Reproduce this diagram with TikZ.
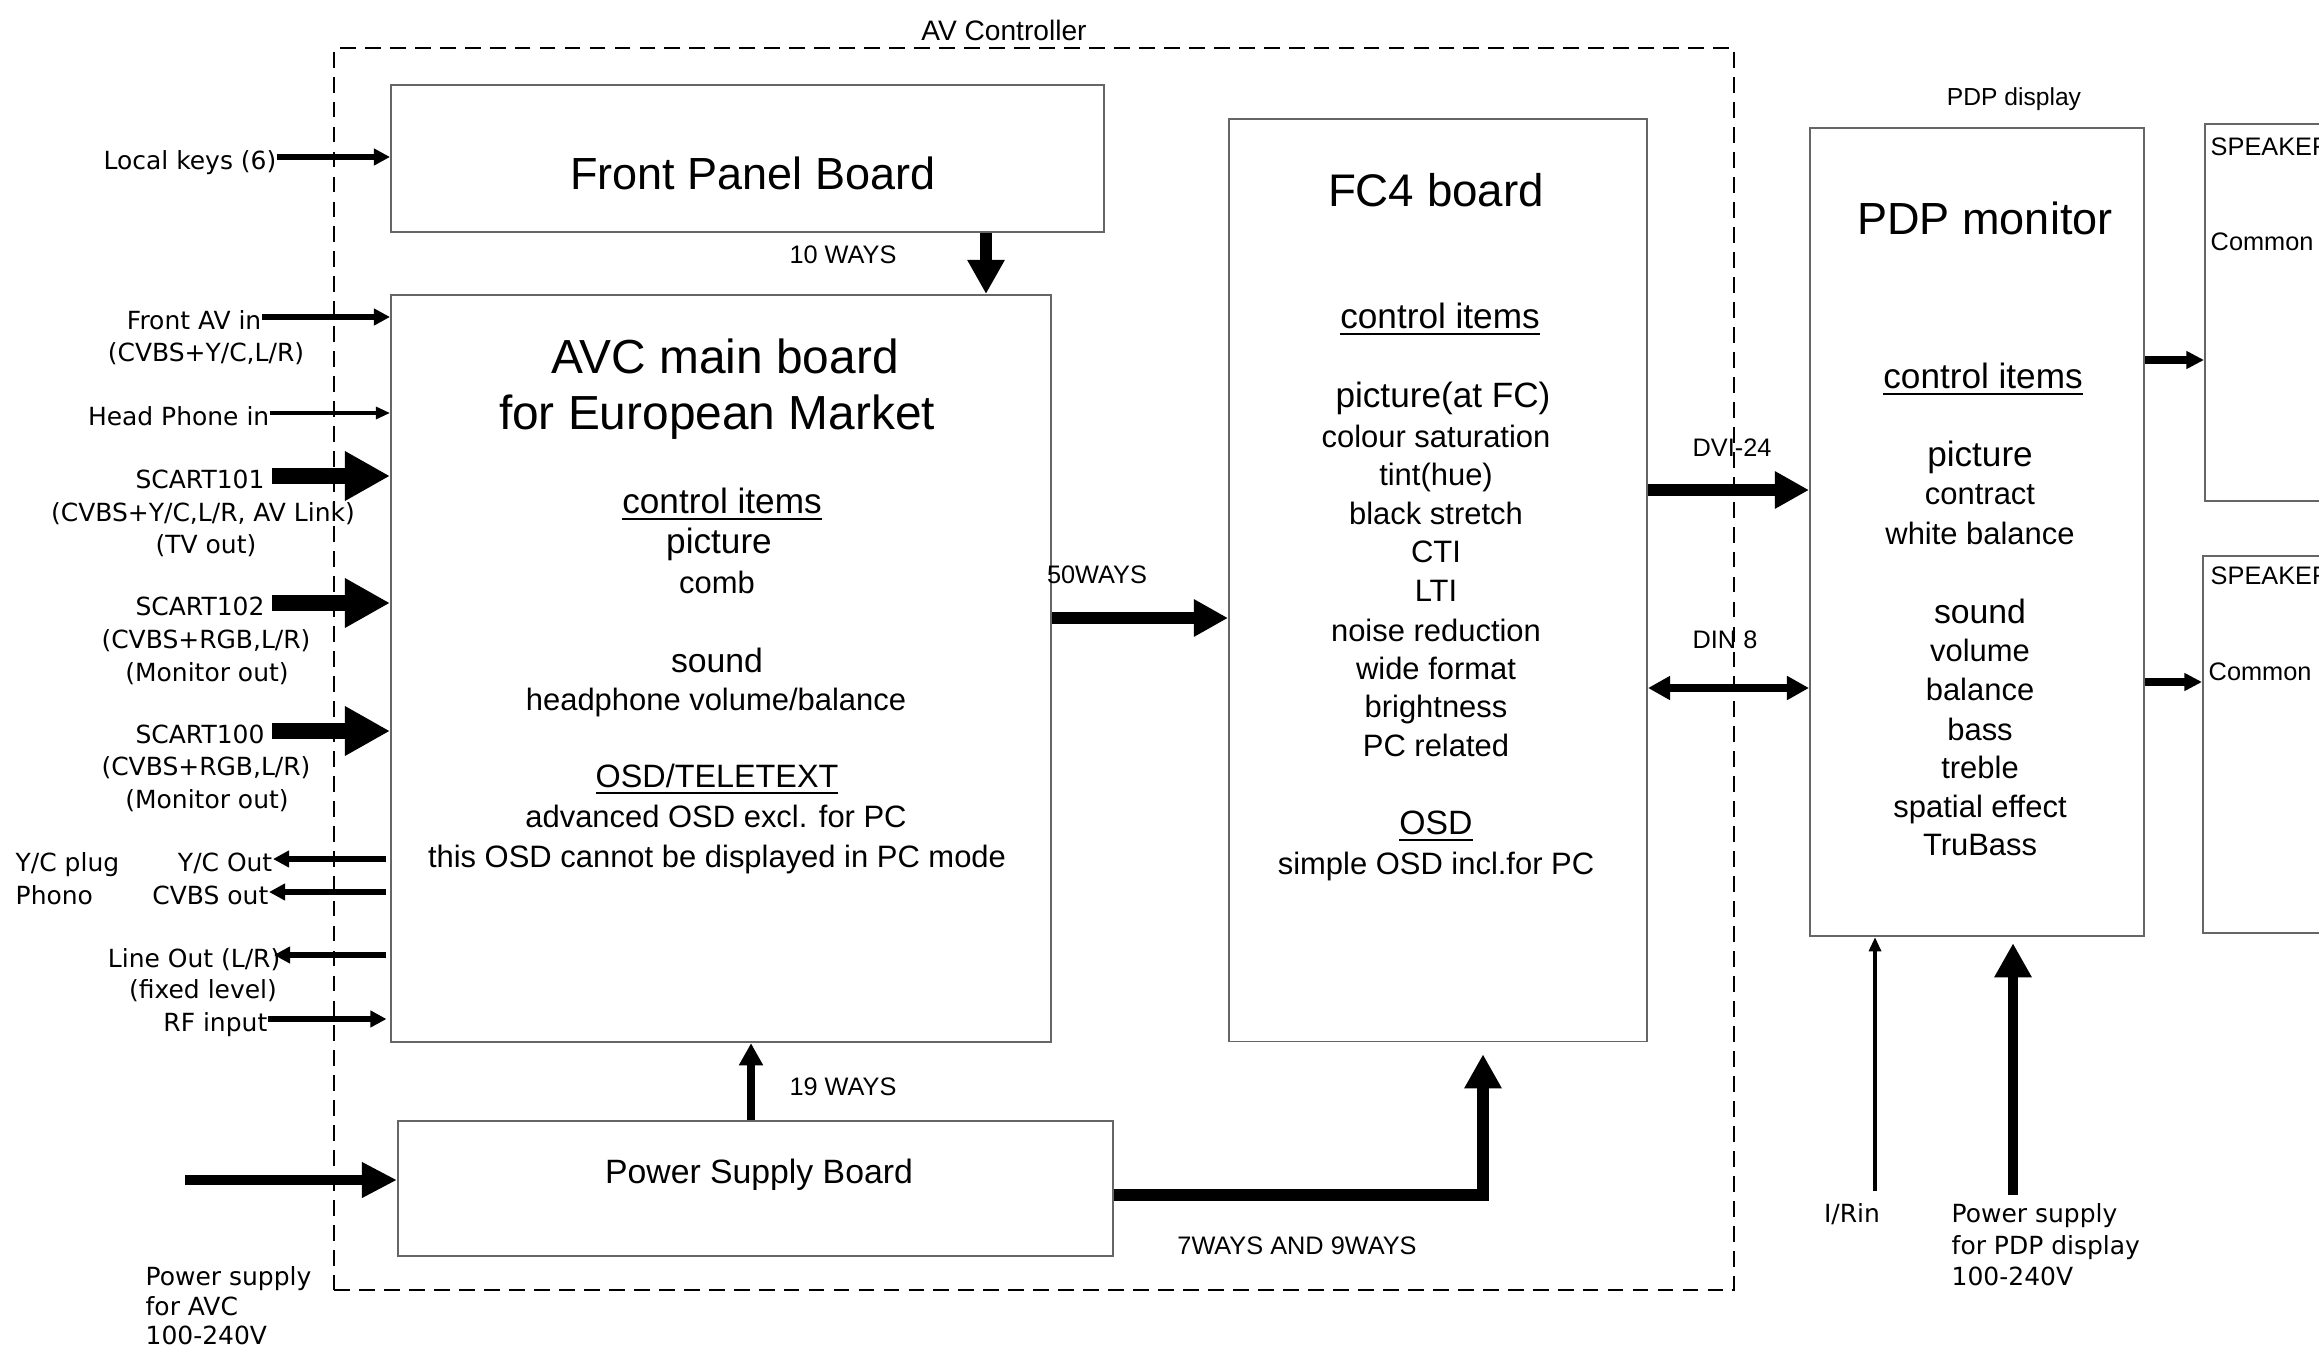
\documentclass[tikz,border=0pt]{standalone}
\usepackage{fontspec}
\setmainfont{Liberation Sans}
\newfontfamily\vfont{DejaVu Sans}
\usetikzlibrary{arrows.meta}
\newcommand\fsz[1]{\fontsize{#1}{#1}\selectfont}
\begin{document}
\begin{tikzpicture}[x=0.01cm,y=-0.01cm,
  box/.style={draw=black!60,line width=0.5pt,inner sep=0pt,anchor=north west},
  ctrlframe/.style={draw,dash pattern=on 4.5pt off 2.6pt,line width=0.7pt,inner sep=0pt,anchor=north west},
  txt/.style={inner sep=0pt,text height=0.72em,text depth=0pt},
  lbl/.style={txt,font=\vfont\fsz{7.1pt}},
  sm/.style={txt,font=\fsz{7.2pt}},
  body/.style={txt,font=\fsz{8.8pt}},
  head/.style={txt,font=\fsz{10pt}},
  title/.style={txt,font=\fsz{13.6pt}},
  bigarr/.style={line width=4.5pt,-{Triangle[length=12.8pt,width=13.2pt]}},
  wayarr/.style={line width=3.4pt,line join=miter,-{Triangle[length=9.7pt,width=10pt]}},
  smallway/.style={line width=2.2pt,-{Triangle[length=6.3pt,width=6.5pt]}},
  midarr/.style={line width=1.8pt,-{Triangle[length=4.6pt,width=4.6pt]}},
  thinarr/.style={line width=0.9pt,-{Triangle[length=4pt,width=3.4pt]}},
  dinarr/.style={line width=2pt,{Triangle[length=6.3pt,width=6.5pt]}-{Triangle[length=6.3pt,width=6.5pt]}},
  spkarr/.style={line width=2pt,-{Triangle[length=5pt,width=4.8pt]}}
]
\useasboundingbox (0,0) rectangle (2319,1349);
\clip (0,0) rectangle (2319,1349);

% AV controller enclosure
\node[ctrlframe,minimum width=13.99cm,minimum height=12.41cm] (avcframe) at (333,47) {};
\node[sm,font=\fsz{8pt}] (avctl) at (1004,28) {AV Controller};

% boards
\node[box,minimum width=7.13cm,minimum height=1.47cm] (fpb) at (390,84) {};
\node[box,minimum width=6.60cm,minimum height=7.47cm] (avc) at (390,294) {};
\node[box,minimum width=4.18cm,minimum height=9.22cm] (fc4) at (1228,118) {};
\node[box,minimum width=3.34cm,minimum height=8.08cm] (pdp) at (1809,127) {};
\node[box,minimum width=7.15cm,minimum height=1.35cm] (psb) at (397,1120) {};
\node[box,minimum width=3.00cm,minimum height=3.77cm] (spk1) at (2204,123) {};
\node[box,minimum width=3.00cm,minimum height=3.77cm] (spk2) at (2202,555) {};

% front panel board
\node[txt,font=\fsz{12.8pt}] (fpbt) at (753,177) {Front Panel Board};
\node[sm] (w10) at (843,251) {10 WAYS};

% AVC main board
\node[title] (avct1) at (725,361) {AVC main board};
\node[title] (avct2) at (717,417) {for European Market};
\node[head] (avc1) at (722,501) {\underline{control items}};
\node[head] (avc2) at (719,541) {picture};
\node[body] (avc3) at (717,581) {comb};
\node[head,font=\fsz{9.6pt}] (avc4) at (717,660) {sound};
\node[body] (avc5) at (716,698) {headphone volume/balance};
\node[body,font=\fsz{9.2pt}] (avc6) at (717,775) {\underline{OSD/TELETEXT}};
\node[body] (avc7) at (716,815) {advanced OSD excl. for PC};
\node[body] (avc8) at (717,855) {this OSD cannot be displayed in PC mode};
\node[sm] (w50) at (1097,571) {50WAYS};

% FC4 board
\node[txt,font=\fsz{13pt}] (fc4t) at (1436,194) {FC4 board};
\node[head] (fc1) at (1440,316) {\underline{control items}};
\node[head] (fc2) at (1443,395) {picture(at FC)};
\node[body] (fc3) at (1436,435) {colour saturation};
\node[body] (fc4a) at (1436,473) {tint(hue)};
\node[body] (fc5) at (1436,512) {black stretch};
\node[body] (fc6) at (1436,550) {CTI};
\node[body] (fc7) at (1436,589) {LTI};
\node[body] (fc8) at (1436,629) {noise reduction};
\node[body] (fc9) at (1436,667) {wide format};
\node[body] (fc10) at (1436,705) {brightness};
\node[body] (fc11) at (1436,744) {PC related};
\node[head,font=\fsz{9.6pt}] (fc12) at (1436,822) {\underline{OSD}};
\node[body] (fc13) at (1436,862) {simple OSD incl.for PC};

% PDP display
\node[sm,font=\fsz{7pt}] (pdpl) at (2014,93) {PDP display};
\node[txt,font=\fsz{12.8pt}] (pdpt) at (1985,222) {PDP monitor};
\node[head] (pd1) at (1983,376) {\underline{control items}};
\node[head] (pd2) at (1980,454) {picture};
\node[body] (pd3) at (1980,492) {contract};
\node[body] (pd4) at (1980,532) {white balance};
\node[head,font=\fsz{9.6pt}] (pd5) at (1980,611) {sound};
\node[body] (pd6) at (1980,649) {volume};
\node[body] (pd7) at (1980,688) {balance};
\node[body] (pd8) at (1980,728) {bass};
\node[body] (pd9) at (1980,766) {treble};
\node[body] (pd10) at (1980,805) {spatial effect};
\node[body] (pd11) at (1980,843) {TruBass};

% speakers
\node[sm,anchor=west] (spk1a) at (2210,143) {SPEAKER};
\node[sm,anchor=west] (spk1b) at (2210,238) {Common};
\node[sm,anchor=west] (spk2a) at (2210,572) {SPEAKER};
\node[sm,anchor=west] (spk2b) at (2208,668) {Common};

% power supply board
\node[txt,font=\fsz{9.6pt}] (psbt) at (759,1171) {Power Supply Board};
\node[sm] (w19) at (843,1083) {19 WAYS};
\node[sm] (w79) at (1297,1242) {7WAYS AND 9WAYS};
\node[sm] (dvi) at (1732,444) {DVI-24};
\node[sm] (din) at (1725,636) {DIN 8};

% external connections on the left
\node[lbl,anchor=east] (lk) at (277,157) {Local keys (6)};
\node[lbl,anchor=east] (fav) at (262,317) {Front AV in};
\node[lbl] (fav2) at (206,349) {(CVBS+Y/C,L/R)};
\node[lbl,anchor=east] (hp) at (270,413) {Head Phone in};
\node[lbl] (s1a) at (200,476) {SCART101};
\node[lbl] (s1b) at (203,509) {(CVBS+Y/C,L/R, AV Link)};
\node[lbl] (s1c) at (206,541) {(TV out)};
\node[lbl] (s2a) at (200,603) {SCART102};
\node[lbl] (s2b) at (206,636) {(CVBS+RGB,L/R)};
\node[lbl] (s2c) at (207,669) {(Monitor out)};
\node[lbl] (s0a) at (200,731) {SCART100};
\node[lbl] (s0b) at (206,763) {(CVBS+RGB,L/R)};
\node[lbl] (s0c) at (207,796) {(Monitor out)};
\node[lbl,anchor=west] (ycp) at (15,859) {Y/C plug};
\node[lbl,anchor=west] (pho) at (15,892) {Phono};
\node[lbl,anchor=east] (yco) at (273,859) {Y/C Out};
\node[lbl,anchor=east] (cvo) at (269,892) {CVBS out};
\node[lbl,anchor=east] (lo) at (281,955) {Line Out (L/R)};
\node[lbl] (lo2) at (203,986) {(fixed level)};
\node[lbl,anchor=east] (rf) at (268,1019) {RF input};
\node[lbl,anchor=west] (pa1) at (145,1273) {Power supply};
\node[lbl,anchor=west] (pa2) at (145,1303) {for AVC};
\node[lbl,anchor=west] (pa3) at (145,1332) {100-240V};

% inputs below the PDP monitor
\node[lbl] (irin) at (1852,1210) {I/Rin};
\node[lbl,anchor=west] (pp1) at (1951,1210) {Power supply};
\node[lbl,anchor=west] (pp2) at (1951,1242) {for PDP display};
\node[lbl,anchor=west] (pp3) at (1951,1273) {100-240V};

% reference points for connectors
\coordinate (x10) at (986,0);
\coordinate (x19) at (751,0);
\coordinate (x79) at (1483,0);
\coordinate (y50) at (0,618);
\coordinate (ydvi) at (0,490);
\coordinate (ydin) at (0,688);
\coordinate (yspk1) at (0,360);
\coordinate (yspk2) at (0,682);
\coordinate (y79) at (0,1195);
\coordinate (pin) at (185,1180);
\coordinate (irs) at (1875,1191);
\coordinate (pps) at (2013,1195);

% connectors on the left
\draw[midarr] (lk.east) -- (lk.east -| fpb.west);
\draw[midarr] (fav.east) -- (fav.east -| avc.west);
\draw[thinarr] (hp.east) -- (hp.east -| avc.west);
\draw[bigarr] ([xshift=2pt]s1a.east) -- (s1a.east -| avc.west);
\draw[bigarr] ([xshift=2pt]s2a.east) -- (s2a.east -| avc.west);
\draw[bigarr] ([xshift=2pt]s0a.east) -- (s0a.east -| avc.west);
\draw[midarr] ([xshift=-1pt]yco.east -| avc.west) -- (yco.east);
\draw[midarr] ([xshift=-1pt]cvo.east -| avc.west) -- (cvo.east);
\draw[midarr] ([xshift=-1pt]lo.east -| avc.west) -- ([xshift=-2pt]lo.east);
\draw[midarr] (rf.east) -- ([xshift=-1pt]rf.east -| avc.west);
\draw[line width=3.1pt,-{Triangle[length=10pt,width=9.5pt]}] (pin) -- (pin -| psb.west);

% board to board connectors
\draw[wayarr] (fpb.south -| x10) -- (avc.north -| x10);
\draw[wayarr] (avc.east |- y50) -- (fc4.west |- y50);
\draw[wayarr] (fc4.east |- ydvi) -- (pdp.west |- ydvi);
\draw[dinarr] (fc4.east |- ydin) -- (pdp.west |- ydin);
\draw[smallway] (psb.north -| x19) -- (avc.south -| x19);
\draw[wayarr,shorten >=3.4pt] (psb.east |- y79) -- (x79 |- y79) -- (fc4.south -| x79);
\draw[spkarr] (pdp.east |- yspk1) -- (spk1.west |- yspk1);
\draw[spkarr] (pdp.east |- yspk2) -- (spk2.west |- yspk2);
\draw[thinarr] (irs) -- (irs |- pdp.south);
\draw[wayarr,line width=3pt,shorten >=1.7pt] (pps) -- (pps |- pdp.south);
\end{tikzpicture}
\end{document}
